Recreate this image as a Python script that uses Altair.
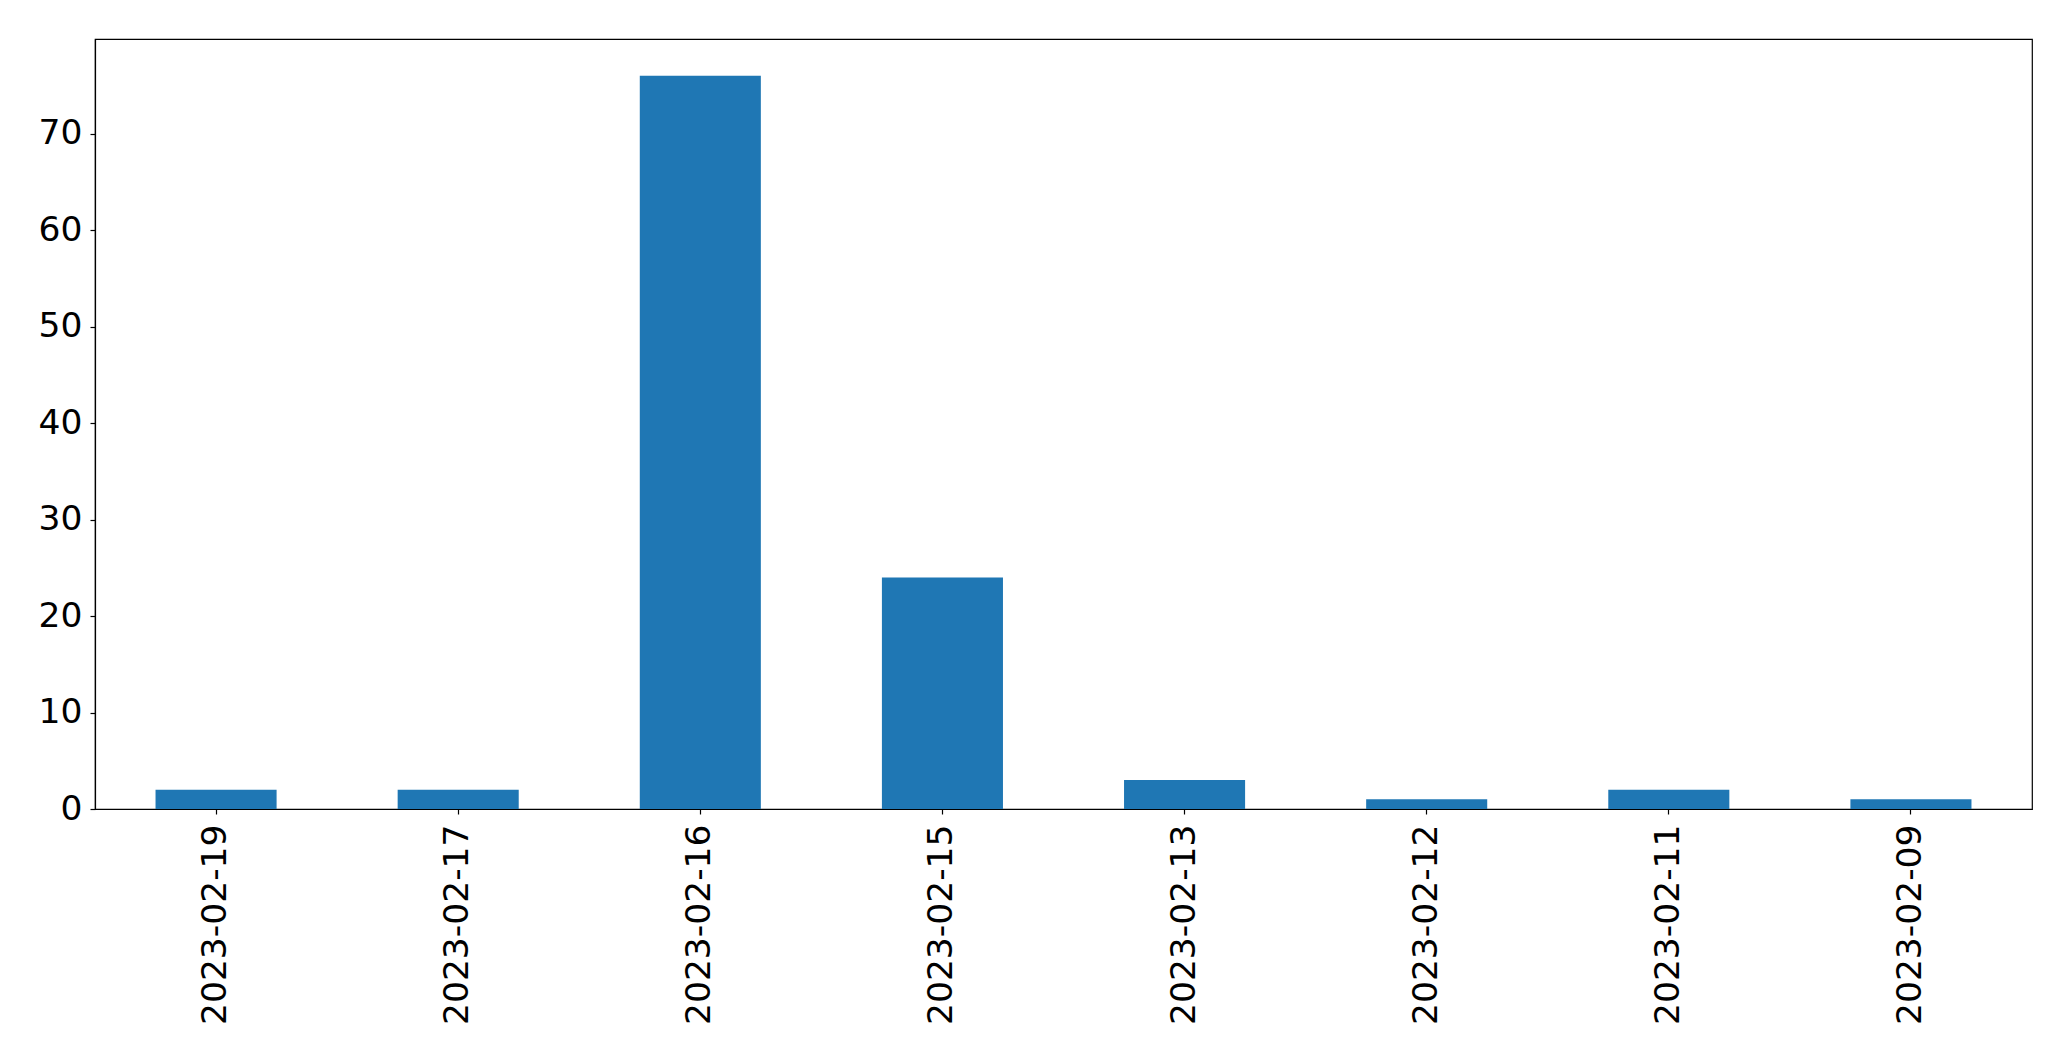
import altair as alt
import pandas as pd

dates = ["2023-02-19", "2023-02-17", "2023-02-16", "2023-02-15",
         "2023-02-13", "2023-02-12", "2023-02-11", "2023-02-09"]
counts = [2, 2, 76, 24, 3, 1, 2, 1]
y_ticks = [0, 10, 20, 30, 40, 50, 60, 70]

df = pd.DataFrame({"date": dates, "count": counts})

chart = alt.Chart(df).mark_bar(color="#1f77b4").encode(
    x=alt.X("date:N", sort=dates, title=None,
            scale=alt.Scale(paddingInner=0.5, paddingOuter=0.25),
            axis=alt.Axis(labelAngle=-90, labelFont="DejaVu Sans", labelFontSize=34.5,
                          labelColor="black", tickColor="black", domainColor="black",
                          tickSize=5, tickWidth=1.2, labelPadding=10, domainWidth=1.2,
                          labelAlign="right", labelBaseline="middle", labelLimit=0)),
    y=alt.Y("count:Q", title=None,
            scale=alt.Scale(domain=[0, 79.8], nice=False, zero=True),
            axis=alt.Axis(values=y_ticks, grid=False, labelFont="DejaVu Sans",
                          labelFontSize=34.5, labelColor="black", tickColor="black",
                          domainColor="black", tickSize=5, tickWidth=1.2,
                          labelPadding=8, domainWidth=1.2)),
).properties(
    width=1937, height=770,
    background="white",
    autosize=alt.AutoSizeParams(type="none"),
    padding={"left": 87, "top": 31, "right": 30, "bottom": 240},
).configure_view(stroke="black", strokeWidth=1.2)

chart.save("out.html", embed_options={"renderer": "svg", "actions": False})
